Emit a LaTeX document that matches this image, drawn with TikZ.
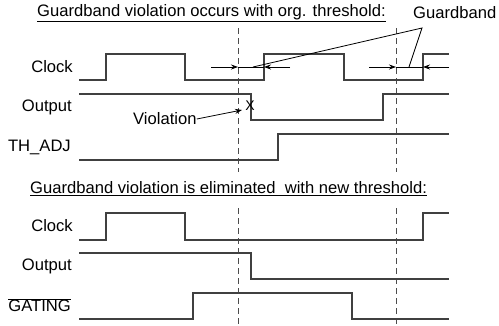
\documentclass[tikz,border=0pt]{standalone}
\usepackage{fontspec}
\setmainfont{Liberation Sans}
\usetikzlibrary{arrows.meta}
\begin{document}
\begin{tikzpicture}[x=1pt,y=-1pt,
  wave/.style={draw=black!75,line width=1.1pt},
  lbl/.style={anchor=east,inner sep=0pt,font=\fontsize{16.6}{18}\selectfont},
  ttl/.style={anchor=west,inner sep=0pt,font=\fontsize{16.6}{18}\selectfont},
  guide/.style={draw=black!70,line width=0.9pt,dash pattern=on 6pt off 4pt},
  gb/.style={draw=black,line width=0.8pt},
  tip/.style={-{Stealth[length=7pt,width=5pt]}}]
\useasboundingbox (0,0) rectangle (499,325);
% titles
\node[ttl] (t1) at (37,13) {\underline{Guardband violation occurs with org. threshold:}};
\node[ttl] (gbt) at (413,13) {Guardband};
\node[ttl] (t2) at (30,189) {\underline{Guardband violation is eliminated\ \ with new threshold:}};
% labels
\node[lbl] (clk1) at (73,67) {Clock};
\node[lbl] (out1) at (72,107) {Output};
\node[lbl] (th) at (71,147) {TH\_ADJ};
\node[lbl] (clk2) at (73,226) {Clock};
\node[lbl] (out2) at (72,266) {Output};
\node[lbl] (gat) at (71,305) {$\overline{\mbox{GATING}}$};
% guides
\draw[guide] (238,28) -- (238,172);
\draw[guide] (396,28) -- (396,172);
\draw[guide] (238,208) -- (238,325);
\draw[guide] (396,208) -- (396,325);
% top waveforms
\draw[wave] (79,80) -- (106,80) -- (106,54) -- (185,54) -- (185,80) -- (264,80) -- (264,54) -- (344,54) -- (344,80) -- (423,80) -- (423,54) -- (449,54);
\draw[wave] (79,94) -- (251,94) -- (251,120) -- (383,120) -- (383,94) -- (449,94);
\draw[wave] (79,160) -- (278,160) -- (278,134) -- (449,134);
% bottom waveforms
\draw[wave] (79,240) -- (106,240) -- (106,213) -- (185,213) -- (185,240) -- (423,240) -- (423,213) -- (449,213);
\draw[wave] (79,253) -- (251,253) -- (251,279) -- (449,279);
\draw[wave] (79,319) -- (193,319) -- (193,293) -- (352,293) -- (352,319) -- (449,319);
% guardband arrows
\coordinate (a1) at (211,67); \coordinate (a2) at (238,67);
\coordinate (a3) at (290,67); \coordinate (a4) at (264,67);
\draw[gb,tip] (a1) -- (a2);
\draw[gb] (a2) -- (a4);
\draw[gb,tip] (a3) -- (a4);
\coordinate (b1) at (369,67); \coordinate (b2) at (396,67);
\coordinate (b3) at (449,67); \coordinate (b4) at (423,67);
\draw[gb,tip] (b1) -- (b2);
\draw[gb] (b2) -- (b4);
\draw[gb,tip] (b3) -- (b4);
\coordinate (apex) at (422,28);
\coordinate (g1) at (253,67);
\coordinate (g2) at (409,67);
\draw[gb] (g1) -- (apex) -- (g2);
% violation
\node[inner sep=0pt,font=\fontsize{14}{15}\selectfont] (x) at (250,106) {X};
\node[ttl] (viol) at (133,119) {Violation};
\coordinate (vt) at (242,110);
\draw[gb,tip] (viol.east) -- (vt);
\end{tikzpicture}
\end{document}
